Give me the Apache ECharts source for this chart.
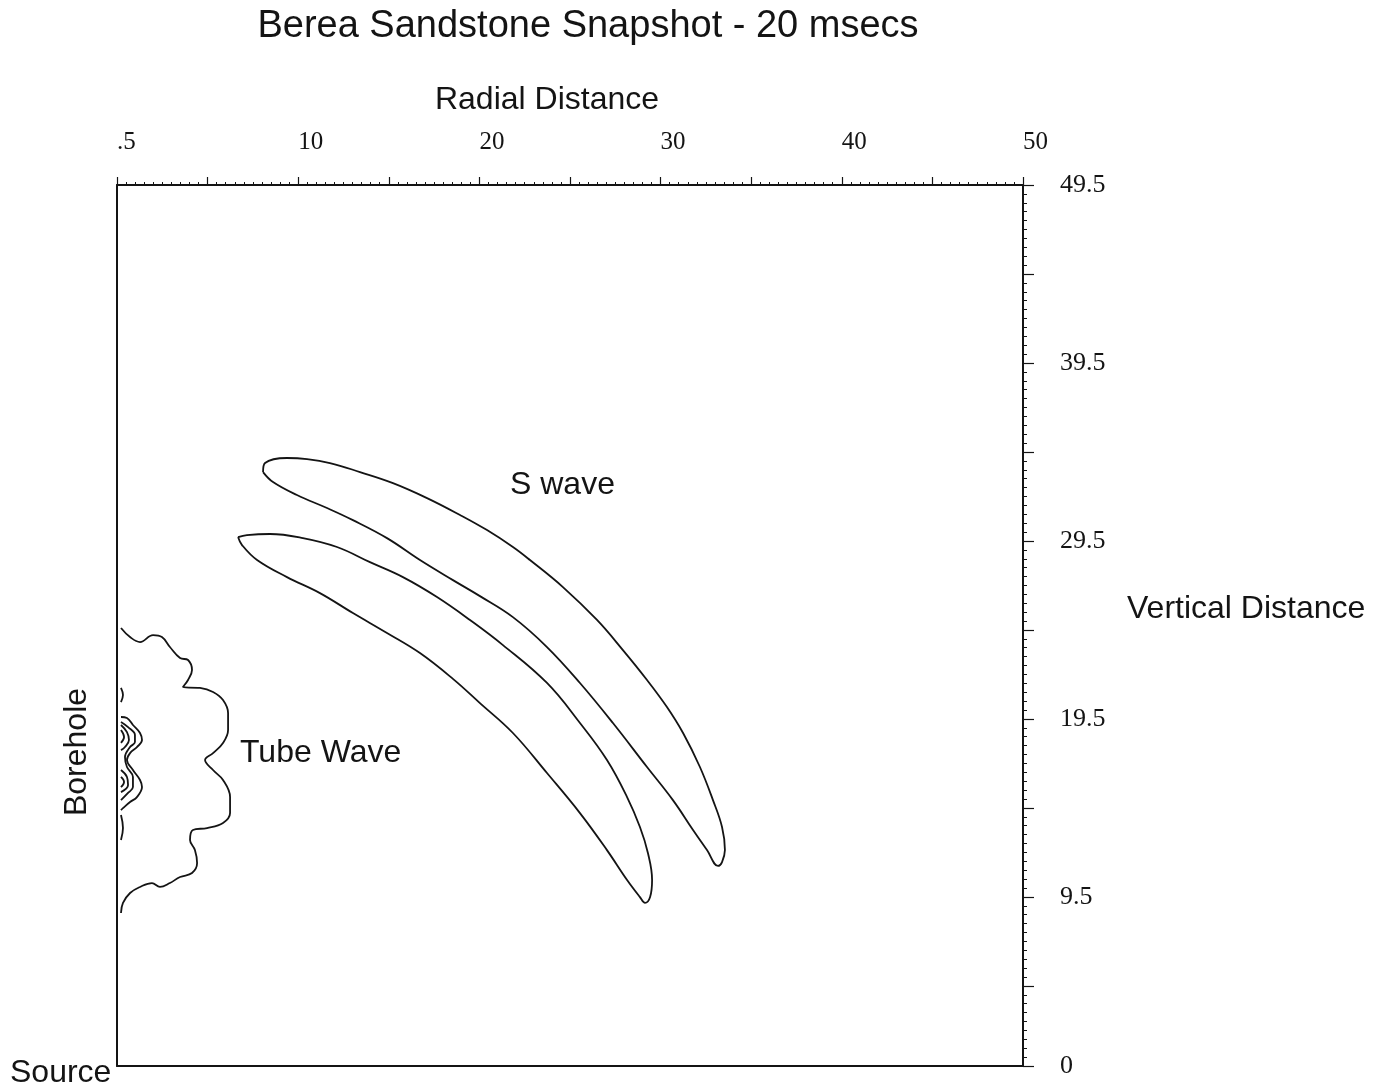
<!DOCTYPE html>
<html>
<head>
<meta charset="utf-8">
<title>Berea Sandstone Snapshot - 20 msecs</title>
<script src="https://cdn.jsdelivr.net/npm/echarts@6/dist/echarts.min.js"></script>
<style>
  html, body { margin: 0; padding: 0; background: #fff; }
  #chart { width: 1387px; height: 1090px; }
</style>
</head>
<body>
<div id="chart"></div>
<script>
// Radial (x) and vertical (y) distance tick labels
const xLabelValues = [0, 10, 20, 30, 40, 50];
const xLabelText = ['.5', '10', '20', '30', '40', '50'];
const yLabelValues = [0, 9.5, 19.5, 29.5, 39.5, 49.5];
const yMajorTicks = [0, 4.5, 9.5, 14.5, 19.5, 24.5, 29.5, 34.5, 39.5, 44.5, 49.5];

// S wave: upper contour (closed), [radial, vertical]
const sWaveUpper = [
  [8.06, 33.37], [8.17, 33.88], [9.38, 34.16], [10.49, 34.10], [11.75, 33.88],
  [13.41, 33.37], [15.23, 32.75], [17.11, 31.91], [18.93, 30.96], [20.42, 30.11],
  [21.85, 29.16], [22.79, 28.43], [24.61, 26.91], [26.49, 25.06], [27.92, 23.37],
  [29.25, 21.69], [30.35, 20.17], [31.24, 18.71], [32.17, 16.80], [32.89, 14.94],
  [33.39, 13.43], [33.55, 12.13], [33.39, 11.46], [33.17, 11.24],
  [32.56, 12.13], [31.79, 13.26], [30.68, 14.94], [29.25, 16.80], [27.37, 19.27],
  [25.55, 21.52], [23.73, 23.54], [21.85, 25.22], [20.03, 26.40], [18.54, 27.30],
  [16.72, 28.43], [14.90, 29.66], [13.02, 30.67], [11.59, 31.35], [9.93, 32.08],
  [8.61, 32.81], [8.06, 33.37]
];

// S wave: lower contour (closed)
const sWaveLower = [
  [6.68, 29.72], [7.17, 29.83], [8.44, 29.89], [10.26, 29.66], [12.14, 29.16],
  [13.96, 28.31], [15.78, 27.47], [17.66, 26.35], [19.48, 25.06], [21.30, 23.65],
  [23.73, 21.52], [25.55, 19.27], [27.04, 17.19], [28.15, 15.11], [28.86, 13.43],
  [29.30, 11.97], [29.53, 10.45], [29.42, 9.49], [29.14, 9.16],
  [28.86, 9.49], [28.15, 10.45], [27.04, 12.13], [25.55, 14.21], [23.73, 16.46],
  [21.85, 18.71], [20.03, 20.39], [18.54, 21.75], [16.72, 23.20], [14.90, 24.33],
  [13.02, 25.45], [11.20, 26.57], [9.38, 27.47], [7.73, 28.43], [6.90, 29.27],
  [6.68, 29.72]
];

// Tube wave: outer contour against the borehole wall
const tubeOuter = [
  [0.22, 24.61], [0.72, 24.10], [1.27, 23.82], [1.99, 24.21], [2.48, 24.10],
  [2.92, 23.54], [3.48, 22.92], [3.92, 22.81], [4.14, 22.25], [3.92, 21.69],
  [3.64, 21.29], [4.58, 21.24], [5.30, 21.01], [5.85, 20.56], [6.13, 19.83],
  [6.13, 18.88], [5.85, 18.15], [5.30, 17.58], [4.86, 17.19], [5.30, 16.63],
  [5.85, 16.07], [6.24, 15.11], [6.24, 14.21], [5.85, 13.65], [4.97, 13.37],
  [4.19, 13.26], [4.03, 12.70], [4.30, 12.13], [4.42, 11.40], [4.14, 10.84],
  [3.48, 10.62], [2.92, 10.28], [2.37, 10.06], [1.93, 10.28], [1.27, 10.06],
  [0.72, 9.72], [0.33, 9.16], [0.22, 8.60]
];

// Tube wave: nested inner contours near the wall
const tubeRingA = [
  [0.22, 19.61], [0.55, 19.55], [0.88, 19.16], [1.27, 18.71], [1.38, 18.31],
  [1.10, 17.92], [0.72, 17.58], [0.55, 17.19], [0.88, 16.63], [1.27, 16.07],
  [1.38, 15.67], [1.10, 15.11], [0.72, 14.83], [0.33, 14.49], [0.22, 14.38]
];
const tubeRingB = [
  [0.22, 19.33], [0.61, 19.04], [0.99, 18.60], [0.99, 18.20], [0.72, 17.92],
  [0.44, 17.36], [0.55, 16.80], [0.88, 16.24], [0.88, 15.67], [0.61, 15.34],
  [0.22, 14.94]
];
const tubeRingC1 = [[0.22, 19.16], [0.55, 18.76], [0.66, 18.31], [0.44, 17.92], [0.22, 17.75]];
const tubeRingC2 = [[0.22, 16.63], [0.55, 16.24], [0.61, 15.79], [0.22, 15.39]];
const tubeRingD1 = [[0.22, 18.88], [0.39, 18.48], [0.22, 18.15]];
const tubeRingD2 = [[0.22, 16.24], [0.39, 15.96], [0.22, 15.67]];
const wallBumpHigh = [[0.22, 21.24], [0.33, 20.84], [0.22, 20.45]];
const wallBumpLow = [[0.22, 14.10], [0.33, 13.37], [0.22, 12.70]];

const contours = [
  sWaveUpper, sWaveLower, tubeOuter, tubeRingA, tubeRingB,
  tubeRingC1, tubeRingC2, tubeRingD1, tubeRingD2, wallBumpHigh, wallBumpLow
];

const ink = '#141414';
const serif = '"Liberation Serif", "Times New Roman", serif';
const sans = '"Liberation Sans", Arial, Helvetica, sans-serif';

const chart = echarts.init(document.getElementById('chart'), null, { renderer: 'canvas' });

const frameLine = { show: true, onZero: false, lineStyle: { color: ink, width: 2 } };

const option = {
  backgroundColor: '#ffffff',
  animation: false,
  grid: { left: 117, top: 185, right: 364, bottom: 24, containLabel: false },
  xAxis: [
    {
      type: 'value', position: 'top', min: 0, max: 50, interval: 5,
      axisLine: frameLine,
      axisTick: { show: true, inside: false, length: 8, lineStyle: { color: ink, width: 1.2 } },
      minorTick: { show: true, splitNumber: 10, length: 3, lineStyle: { color: ink, width: 1 } },
      splitLine: { show: false },
      axisLabel: {
        show: true, margin: 30, align: 'left',
        fontFamily: serif, fontSize: 25, color: ink,
        formatter: function (v) {
          const i = xLabelValues.indexOf(v);
          return i >= 0 ? xLabelText[i] : '';
        }
      }
    },
    {
      type: 'value', position: 'bottom', min: 0, max: 50,
      axisLine: frameLine,
      axisTick: { show: false }, axisLabel: { show: false }, splitLine: { show: false }
    }
  ],
  yAxis: [
    {
      type: 'value', position: 'right', min: 0, max: 49.5,
      axisLine: frameLine,
      axisTick: { show: true, inside: false, length: 11, customValues: yMajorTicks, lineStyle: { color: ink, width: 1.2 } },
      splitLine: { show: false },
      axisLabel: {
        show: true, margin: 37, align: 'left', customValues: yLabelValues,
        fontFamily: serif, fontSize: 26, color: ink
      }
    },
    {
      type: 'value', position: 'right', min: 0, max: 49.5, interval: 0.5,
      axisLine: { show: false, onZero: false },
      axisTick: { show: true, inside: false, length: 4, lineStyle: { color: ink, width: 1 } },
      axisLabel: { show: false }, splitLine: { show: false }
    },
    {
      type: 'value', position: 'left', min: 0, max: 49.5,
      axisLine: frameLine,
      axisTick: { show: false }, axisLabel: { show: false }, splitLine: { show: false }
    }
  ],
  series: contours.map(function (c) {
    return {
      type: 'line', xAxisIndex: 0, yAxisIndex: 0, data: c,
      showSymbol: false, symbol: 'none', smooth: 0.4, silent: true,
      lineStyle: { color: ink, width: 1.8 }
    };
  }),
  graphic: [
    { type: 'text', x: 588, y: 27,
      style: { text: 'Berea Sandstone Snapshot - 20 msecs', font: '38px ' + sans, fill: ink, align: 'center', verticalAlign: 'middle' } },
    { type: 'text', x: 547, y: 100,
      style: { text: 'Radial Distance', font: '32px ' + sans, fill: ink, align: 'center', verticalAlign: 'middle' } },
    { type: 'text', x: 1127, y: 609,
      style: { text: 'Vertical Distance', font: '32px ' + sans, fill: ink, align: 'left', verticalAlign: 'middle' } },
    { type: 'text', x: 77, y: 752, rotation: Math.PI / 2,
      style: { text: 'Borehole', font: '32px ' + sans, fill: ink, align: 'center', verticalAlign: 'middle' } },
    { type: 'text', x: 10, y: 1073,
      style: { text: 'Source', font: '32px ' + sans, fill: ink, align: 'left', verticalAlign: 'middle' } },
    { type: 'text', x: 510, y: 485,
      style: { text: 'S wave', font: '32px ' + sans, fill: ink, align: 'left', verticalAlign: 'middle' } },
    { type: 'text', x: 240, y: 753,
      style: { text: 'Tube Wave', font: '32px ' + sans, fill: ink, align: 'left', verticalAlign: 'middle' } }
  ]
};

chart.setOption(option);
</script>
</body>
</html>
